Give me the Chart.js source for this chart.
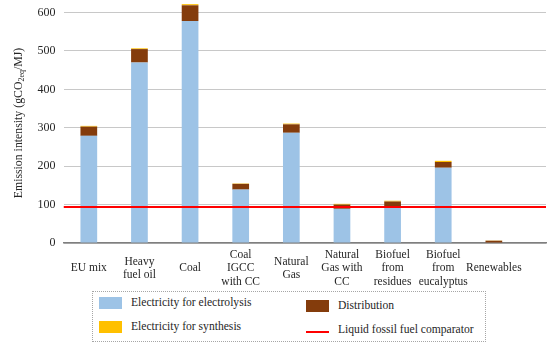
<!DOCTYPE html>
<html>
<head>
<meta charset="utf-8">
<script src="https://cdn.jsdelivr.net/npm/chart.js@4/dist/chart.umd.min.js"></script>
<style>
    body { margin: 0; background: #fff; font-family: "Liberation Serif", "Times New Roman", Times, serif; }
    #wrap { position: relative; width: 550px; height: 350px; }
    #box { position: absolute; left: 0; top: 0; width: 550px; height: 290px; }
    #legend { position: absolute; left: 92px; top: 291px; width: 392px; height: 49px; border: 1px dotted #a6a6a6; color: #262626; font-size: 11.6px; }
    .item { position: absolute; height: 14px; line-height: 14px; white-space: nowrap; }
    .sw { position: absolute; left: 0; top: 1px; width: 23px; height: 12px; }
    .ln { position: absolute; left: 0; top: 8px; width: 23px; height: 2px; }
    .item span { position: absolute; left: 32px; top: 0; }
</style>
</head>
<body>
<div id="wrap">
    <div id="box"><canvas id="chart"></canvas></div>
    <div id="legend"></div>
</div>
<script>
    // categories (multi-line labels as in the figure)
    var categories = [
        ['EU mix'], ['Heavy', 'fuel oil'], ['Coal'], ['Coal', 'IGCC', 'with CC'], ['Natural', 'Gas'],
        ['Natural', 'Gas with', 'CC'], ['Biofuel', 'from', 'residues'], ['Biofuel', 'from', 'eucalyptus'], ['Renewables']
    ];
    var electrolysis = [279, 470, 578, 139, 287, 89, 95, 196, 1];
    var distribution = [24, 35, 41, 15, 22, 11, 13, 15, 5];
    var synthesis = [2, 2, 3, 1, 2, 2, 2, 3, 0.5];
    var comparator = 94;
    var yTicks = [0, 100, 200, 300, 400, 500, 600];

    // the plot area runs a bit past the last category, like the original
    var xMin = -0.5;
    var xMax = 9.03;

    var font = '"Liberation Serif", "Times New Roman", Times, serif';
    var textColor = '#262626';

    // y axis title with subscript, drawn rotated
    var axisTitle = {
        id: 'axisTitle',
        afterDraw: function (chart) {
            var ctx = chart.ctx;
            var area = chart.chartArea;
            var parts = [['Emission intensity (gCO', 11.8, 0], ['2eq', 8, 3], ['/MJ)', 11.8, 0]];
            ctx.save();
            var total = 0;
            parts.forEach(function (p) {
                ctx.font = p[1] + 'px ' + font;
                total += ctx.measureText(p[0]).width;
            });
            ctx.translate(19, (area.top + area.bottom) / 2);
            ctx.rotate(-Math.PI / 2);
            ctx.fillStyle = textColor;
            ctx.textBaseline = 'middle';
            var x = -total / 2;
            parts.forEach(function (p) {
                ctx.font = p[1] + 'px ' + font;
                ctx.fillText(p[0], x, p[2]);
                x += ctx.measureText(p[0]).width;
            });
            ctx.restore();
        }
    };

    function points(values) {
        return values.map(function (v, i) { return { x: i, y: v }; });
    }

    var datasets = [
        { label: 'Electricity for electrolysis', data: points(electrolysis), backgroundColor: '#9dc3e6' },
        { label: 'Distribution', data: points(distribution), backgroundColor: '#843c0c' },
        { label: 'Electricity for synthesis', data: points(synthesis), backgroundColor: '#ffc000' }
    ];
    datasets.forEach(function (d) {
        d.type = 'bar';
        d.order = 1;
        d.barPercentage = 0.33;
        d.categoryPercentage = 1;
        d.clip = false;
    });
    datasets.push({
        type: 'line',
        label: 'Liquid fossil fuel comparator',
        data: [{ x: xMin, y: comparator }, { x: xMax, y: comparator }],
        borderColor: '#ff0000',
        borderWidth: 2,
        pointRadius: 0,
        order: 0
    });

    new Chart(document.getElementById('chart'), {
        data: { datasets: datasets },
        options: {
            responsive: true,
            maintainAspectRatio: false,
            animation: false,
            layout: { padding: { top: 3, right: 4, left: 0, bottom: 0 } },
            plugins: { legend: { display: false }, tooltip: { enabled: false } },
            scales: {
                x: {
                    type: 'linear',
                    stacked: true,
                    min: xMin,
                    max: xMax,
                    offset: false,
                    grid: { display: false },
                    border: { color: '#7f7f7f', width: 1.5 },
                    afterBuildTicks: function (scale) {
                        scale.ticks = categories.map(function (c, i) { return { value: i }; });
                    },
                    ticks: {
                        color: textColor, font: { family: font, size: 11.5, lineHeight: 1.16 },
                        padding: 4, crossAlign: 'center', maxRotation: 0, autoSkip: false,
                        callback: function (v) { return categories[v] || ''; }
                    },
                    afterFit: function (scale) { scale.height = 47; }
                },
                y: {
                    stacked: true,
                    min: 0,
                    max: 625,
                    grid: { color: '#c8c8c8', drawTicks: false },
                    border: { display: false },
                    afterBuildTicks: function (scale) {
                        scale.ticks = yTicks.map(function (v) { return { value: v }; });
                    },
                    ticks: { color: textColor, font: { family: font, size: 12 }, padding: 8 },
                    afterFit: function (scale) {
                        scale.width = 63.5;
                        scale.paddingTop = 0;
                        scale.paddingBottom = 0;
                    }
                }
            }
        },
        plugins: [axisTitle]
    });

    // legend laid out in two columns like the original
    var legendItems = [
        { text: 'Electricity for electrolysis', color: '#9dc3e6', kind: 'sw', left: 6, top: 4 },
        { text: 'Electricity for synthesis', color: '#ffc000', kind: 'sw', left: 6, top: 28 },
        { text: 'Distribution', color: '#843c0c', kind: 'sw', left: 213, top: 7 },
        { text: 'Liquid fossil fuel comparator', color: '#ff0000', kind: 'ln', left: 213, top: 31 }
    ];
    var legend = document.getElementById('legend');
    legendItems.forEach(function (it) {
        var el = document.createElement('div');
        el.className = 'item';
        el.style.left = it.left + 'px';
        el.style.top = it.top + 'px';
        el.innerHTML = '<div class="' + it.kind + '" style="background:' + it.color + '"></div><span>' + it.text + '</span>';
        legend.appendChild(el);
    });
</script>
</body>
</html>
